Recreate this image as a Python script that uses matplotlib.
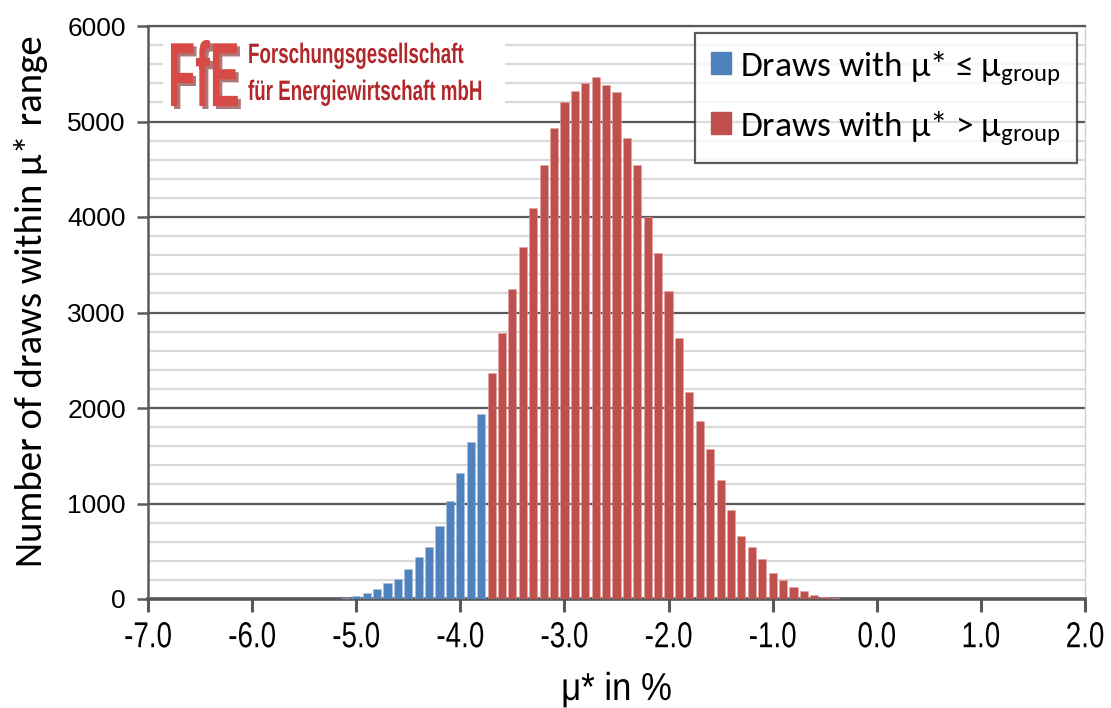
import matplotlib
matplotlib.use("Agg")
import matplotlib.pyplot as plt
from matplotlib.patches import Patch
from matplotlib import font_manager
from matplotlib.colors import to_rgba
from matplotlib.patheffects import AbstractPathEffect
from matplotlib.transforms import Affine2D
from matplotlib.ticker import MultipleLocator

# bin centres (mu* in %) and counts
blue_x = [-5.2, -5.1, -5.0, -4.9, -4.8, -4.7, -4.6, -4.5, -4.4, -4.3, -4.2, -4.1, -4.0, -3.9, -3.8]
blue_n = [5, 15, 35, 60, 105, 165, 205, 311, 437, 546, 763, 1025, 1319, 1644, 1941]

red_x = [-3.7, -3.6, -3.5, -3.4, -3.3, -3.2, -3.1, -3.0, -2.9, -2.8, -2.7, -2.6, -2.5, -2.4,
         -2.3, -2.2, -2.1, -2.0, -1.9, -1.8, -1.7, -1.6, -1.5, -1.4, -1.3, -1.2, -1.1, -1.0,
         -0.9, -0.8, -0.7, -0.6, -0.5, -0.4, -0.3]
red_n = [2370, 2790, 3241, 3681, 4098, 4549, 4937, 5200, 5322, 5407, 5469, 5384, 5314, 4826,
         4545, 3995, 3618, 3226, 2738, 2166, 1863, 1567, 1242, 931, 658, 547, 418, 273,
         200, 126, 89, 37, 22, 11, 4]

x_ticks = [-7.0, -6.0, -5.0, -4.0, -3.0, -2.0, -1.0, 0.0, 1.0, 2.0]
y_ticks = [0, 1000, 2000, 3000, 4000, 5000, 6000]

legend_labels = [r"Draws with μ* ≤ μ$_{\mathregular{group}}$",
                 r"Draws with μ* > μ$_{\mathregular{group}}$"]

BLUE = "#4F81BD"
RED = "#C0504D"
AXGRAY = "#595959"


def pick(names, default):
    have = {f.name for f in font_manager.fontManager.ttflist}
    for n in names:
        if n in have:
            return n
    return default


arial = pick(["Liberation Sans", "Arial"], "DejaVu Sans")
calibri = pick(["Carlito", "Lato", "Open Sans"], "DejaVu Sans")


class Stretch(AbstractPathEffect):
    """scale glyphs about the text anchor (text stays a Text artist),
    optionally with a dark offset copy behind it"""
    def __init__(self, text, sx=1.0, sy=1.0, shadow=None, shadow_off=(3, -3)):
        super().__init__()
        self.text, self.sx, self.sy = text, sx, sy
        self.shadow, self.shadow_off = shadow, shadow_off

    def draw_path(self, renderer, gc, tpath, affine, rgbFace=None):
        x0, y0 = self.text.get_transform().transform(self.text.get_position())
        t = Affine2D().translate(-x0, -y0).scale(self.sx, self.sy).translate(x0, y0)
        if self.shadow is not None:
            col = to_rgba(self.shadow, 0.6)
            gc0 = renderer.new_gc()
            gc0.copy_properties(gc)
            gc0.set_foreground(col)
            gc0.set_alpha(0.6)
            off = Affine2D().translate(*self.shadow_off)
            renderer.draw_path(gc0, tpath, affine + t + off, col)
            gc0.restore()
        renderer.draw_path(gc, tpath, affine + t, rgbFace)


plt.rcParams["axes.unicode_minus"] = False
plt.rcParams["mathtext.fontset"] = "custom"
plt.rcParams["mathtext.rm"] = calibri
plt.rcParams["mathtext.it"] = calibri

fig = plt.figure(figsize=(11.11, 7.08), dpi=100)
ax = fig.add_axes([148 / 1111, 1 - 599 / 708, 937 / 1111, 573 / 708])

ax.bar(blue_x, blue_n, width=0.078, color=BLUE, edgecolor="#A9C0DE", linewidth=0.4, zorder=3)
ax.bar(red_x, red_n, width=0.078, color=RED, edgecolor="#E2A6A4", linewidth=0.4, zorder=3)

ax.set_xlim(-7.0, 2.0)
ax.set_ylim(0, 6000)
ax.set_xticks(x_ticks, [f"{v:.1f}" for v in x_ticks])
ax.set_yticks(y_ticks, [str(v) for v in y_ticks])
ax.yaxis.set_minor_locator(MultipleLocator(200))

ax.grid(which="minor", axis="y", color="#D9D9D9", linewidth=1.6, zorder=0)
ax.grid(which="major", axis="y", color=AXGRAY, linewidth=1.6, zorder=1)
ax.set_axisbelow(True)

for s in ["left", "bottom", "top"]:
    ax.spines[s].set_color(AXGRAY)
ax.spines["bottom"].set_linewidth(2.6)
ax.spines["left"].set_linewidth(1.8)
ax.spines["top"].set_linewidth(1.6)
ax.spines["right"].set_color("#D0D0D0")
ax.spines["right"].set_linewidth(1.0)

ax.tick_params(axis="y", which="major", direction="out", length=8, width=1.8,
               color=AXGRAY, labelsize=19, pad=8)
ax.tick_params(axis="y", which="minor", length=0)
ax.tick_params(axis="x", which="major", direction="out", length=9, width=2.2,
               color=AXGRAY, labelsize=20, pad=7)
for lab in ax.get_yticklabels():
    lab.set_fontfamily(arial)
for lab in ax.get_xticklabels():
    lab.set_fontfamily(arial)
    lab.set_path_effects([Stretch(lab, 1.0, 1.3)])

xl = ax.set_xlabel("μ* in %", fontsize=25, family=arial, labelpad=17)
xl.set_path_effects([Stretch(xl, 1.0, 1.12)])
ax.set_ylabel("Number of draws within μ* range", fontsize=28, family=calibri)
ax.yaxis.set_label_coords(-0.107, 0.52)

handles = [Patch(facecolor=BLUE, edgecolor=BLUE), Patch(facecolor=RED, edgecolor=RED)]
leg = ax.legend(handles, legend_labels, loc="upper right", bbox_to_anchor=(0.991, 0.988),
                prop={"family": calibri, "size": 25.5}, frameon=True, fancybox=False,
                handlelength=0.55, handleheight=0.55, handletextpad=0.25,
                borderpad=0.45, labelspacing=0.62, borderaxespad=0)
leg.get_frame().set_edgecolor("#333333")
leg.get_frame().set_linewidth(1.6)

# company logo block in upper-left corner
logo = fig.add_axes([163 / 1111, 1 - 112 / 708, 342 / 1111, 84 / 708])
logo.set_xlim(0, 342)
logo.set_ylim(0, 84)
logo.axis("off")
logo.add_patch(plt.Rectangle((0, 0), 342, 84, color="white"))
fe = logo.text(5, 6, "FfE", fontsize=32, fontweight="bold", color="#D84A45",
               family=arial, va="baseline", ha="left")
fe.set_path_effects([Stretch(fe, 1.0, 2.05, shadow="#7A1F1F", shadow_off=(3, -3))])
for txt, yy in [("Forschungsgesellschaft", 49), ("für Energiewirtschaft mbH", 12)]:
    t = logo.text(85, yy, txt, fontsize=13.5, fontweight="bold", color="#B3262A",
                  family=arial, va="baseline", ha="left")
    t.set_path_effects([Stretch(t, 1.0, 1.5)])

fig.savefig("out.png", dpi=100)
